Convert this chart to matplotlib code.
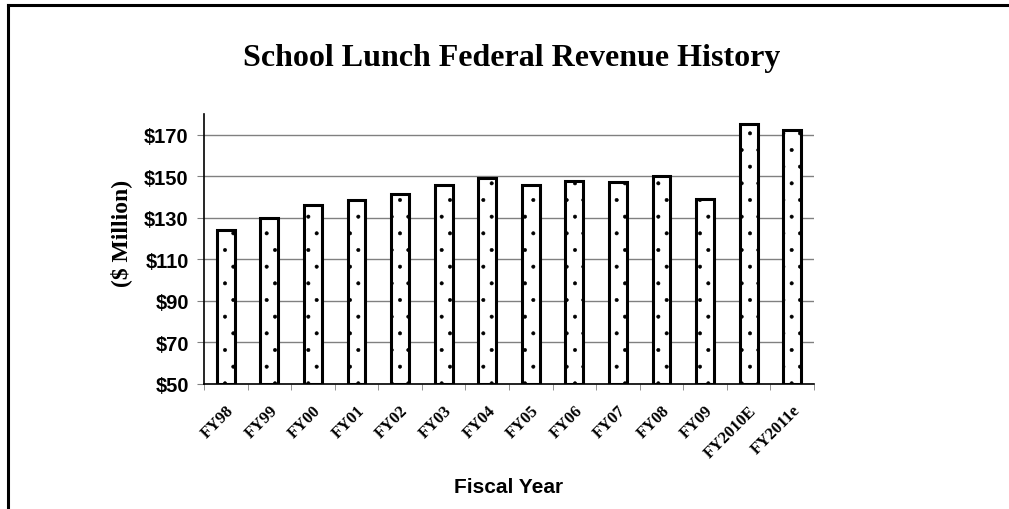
import numpy as np
import matplotlib
matplotlib.use('Agg')
import matplotlib.pyplot as plt
import matplotlib.transforms as mtransforms
from matplotlib.lines import Line2D

# ===== Data =====
years = ['FY98', 'FY99', 'FY00', 'FY01', 'FY02', 'FY03', 'FY04',
         'FY05', 'FY06', 'FY07', 'FY08', 'FY09', 'FY2010E', 'FY2011e']
revenue = [124.3, 129.7, 136.3, 138.8, 141.7, 145.9, 149.2,
           145.9, 147.8, 147.4, 150.2, 139.0, 175.0, 172.4]
yticks = [50, 70, 90, 110, 130, 150, 170]

plt.rcParams['hatch.linewidth'] = 0.4
plt.rcParams['hatch.color'] = '#555555'

fig = plt.figure(figsize=(10.09, 5.10), dpi=100)
ax = fig.add_axes([0.2022, 0.2451, 0.6045, 0.5294])

x = np.arange(len(years))
base = 50
ax.bar(x, np.array(revenue) - base, bottom=base, width=0.41,
       color='white', edgecolor='black', linewidth=2.2, hatch='.', zorder=3)

ax.set_xlim(-0.5, len(years) - 0.5)
ax.set_ylim(50, 180)
ax.set_yticks(yticks)
ax.set_yticklabels([f'${v}' for v in yticks], fontsize=14.5, fontweight='bold',
                   family='Liberation Sans')
ax.yaxis.grid(True, color='#808080', lw=1, zorder=0)

ax.set_xticks(x)
ax.set_xticklabels(years, rotation=45, ha='right', rotation_mode='anchor',
                   fontsize=12, fontweight='bold', family='Liberation Serif')
# nudge the rotated labels a little to the right, like the original
offset = mtransforms.ScaledTranslation(4 / 100, 0, fig.dpi_scale_trans)
for lbl in ax.get_xticklabels():
    lbl.set_transform(lbl.get_transform() + offset)
ax.set_xticks(np.arange(len(years) + 1) - 0.5, minor=True)
ax.tick_params(axis='x', which='major', length=0, pad=13)
ax.tick_params(axis='x', which='minor', length=4, color='#808080', direction='out')
ax.tick_params(axis='y', length=5, color='#808080', direction='out', pad=6)

for s in ['top', 'right']:
    ax.spines[s].set_visible(False)
for s in ['left', 'bottom']:
    ax.spines[s].set_color('black')
    ax.spines[s].set_linewidth(1.2)

ax.set_ylabel('($ Million)', fontsize=17, fontweight='bold', family='Liberation Serif')
ax.yaxis.set_label_coords(-0.118, 0.56)
ax.set_xlabel('Fiscal Year', fontsize=15, fontweight='bold', family='Liberation Sans',
              labelpad=12)

fig.text(0.507, 0.885, 'School Lunch Federal Revenue History', ha='center', va='center',
         fontsize=23, fontweight='bold', family='Liberation Serif')

# frame (left and top edges)
fig.add_artist(Line2D([8 / 1009, 8 / 1009], [0, 1 - 6 / 510], color='black', lw=2.2,
                      transform=fig.transFigure))
fig.add_artist(Line2D([8 / 1009, 1], [1 - 6 / 510, 1 - 6 / 510], color='black', lw=2.2,
                      transform=fig.transFigure))

plt.savefig('out.png', dpi=100)
